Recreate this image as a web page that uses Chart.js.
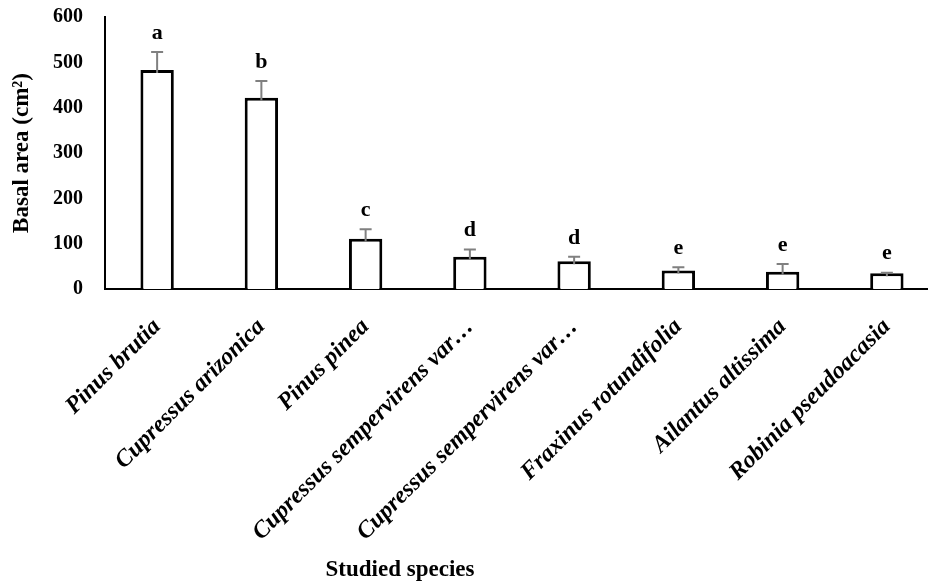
<!DOCTYPE html>
<html>
<head>
<meta charset="utf-8">
<script src="https://cdn.jsdelivr.net/npm/chart.js@4/dist/chart.umd.min.js"></script>
<style>
  html, body { margin: 0; padding: 0; background: #fff; overflow: hidden; }
  #wrap { width: 940px; height: 585px; }
</style>
</head>
<body>
<div id="wrap"><canvas id="myChart" width="940" height="585"></canvas></div>
<script>
// species studied
var species = [
    "Pinus brutia",
    "Cupressus arizonica",
    "Pinus pinea",
    "Cupressus sempervirens var\u2026",
    "Cupressus sempervirens var\u2026",
    "Fraxinus rotundifolia",
    "Ailantus altissima",
    "Robinia pseudoacasia"
];
// mean basal area (cm2)
var basalArea = [483, 422, 111, 71, 61, 41, 38, 35];
// standard error (upper bar only)
var stdErr = [40, 37, 21, 16, 10, 7, 17, 1];
// significance groups
var groups = ["a", "b", "c", "d", "d", "e", "e", "e"];
var yTicks = [0, 100, 200, 300, 400, 500, 600];

var serif = "'Liberation Serif', 'Times New Roman', serif";

// draws the error bars and the letters above them
var errorBars = {
    id: 'errorBars',
    afterDatasetsDraw: function (chart) {
        var ctx = chart.ctx;
        var yScale = chart.scales.y;
        var bars = chart.getDatasetMeta(0).data;
        ctx.save();
        bars.forEach(function (bar, i) {
            var yBase = yScale.getPixelForValue(basalArea[i]);
            var yTop = yScale.getPixelForValue(basalArea[i] + stdErr[i]);
            ctx.strokeStyle = "#808080";
            ctx.lineWidth = 2;
            ctx.beginPath();
            ctx.moveTo(bar.x, yBase + 3);
            ctx.lineTo(bar.x, yTop);
            ctx.moveTo(bar.x - 6, yTop);
            ctx.lineTo(bar.x + 6, yTop);
            ctx.stroke();

            ctx.fillStyle = "#000";
            ctx.font = "bold 22px " + serif;
            ctx.textAlign = "center";
            ctx.textBaseline = "middle";
            ctx.fillText(groups[i], bar.x, yTop - 19);
        });
        ctx.restore();
    },
    afterDraw: function (chart) {
        var ctx = chart.ctx;
        ctx.save();
        ctx.fillStyle = "#000";
        ctx.font = "bold 23px " + serif;
        ctx.textAlign = "center";
        ctx.textBaseline = "middle";
        ctx.fillText("Studied species", 400, 570);
        ctx.restore();
    }
};

var ctx = document.getElementById("myChart");
var myChart = new Chart(ctx, {
    type: 'bar',
    data: {
        labels: species,
        datasets: [{
            data: basalArea,
            backgroundColor: "#ffffff",
            borderColor: "#000000",
            borderWidth: 3,
            barPercentage: 0.32,
            categoryPercentage: 1.0
        }]
    },
    options: {
        responsive: false,
        animation: false,
        layout: { padding: { top: 17, right: 1, left: 0, bottom: 0 } },
        plugins: {
            legend: { display: false },
            tooltip: { enabled: false }
        },
        scales: {
            x: {
                grid: { display: false, drawTicks: false },
                border: { display: true, color: "#000", width: 2 },
                ticks: {
                    autoSkip: false,
                    maxRotation: 45,
                    minRotation: 45,
                    padding: 24,
                    color: "#000",
                    font: { family: serif, size: 24, weight: "bold", style: "italic" }
                },
                afterFit: function (scale) {
                    scale.height = 296;
                    scale.paddingTop = 0;
                    scale.paddingBottom = 0;
                }
            },
            y: {
                min: 0,
                max: 600,
                afterBuildTicks: function (scale) {
                    scale.ticks = yTicks.map(function (v) { return { value: v }; });
                },
                grid: { display: false, drawTicks: false },
                border: { display: true, color: "#000", width: 2 },
                ticks: {
                    padding: 22,
                    color: "#000",
                    font: { family: serif, size: 20, weight: "bold" }
                },
                title: {
                    display: true,
                    text: "Basal area (cm\u00b2)",
                    color: "#000",
                    padding: 8,
                    font: { family: serif, size: 23, weight: "bold" }
                },
                afterFit: function (scale) {
                    scale.width = 105;
                    scale.paddingTop = 0;
                    scale.paddingBottom = 0;
                }
            }
        }
    },
    plugins: [errorBars]
});
</script>
</body>
</html>
